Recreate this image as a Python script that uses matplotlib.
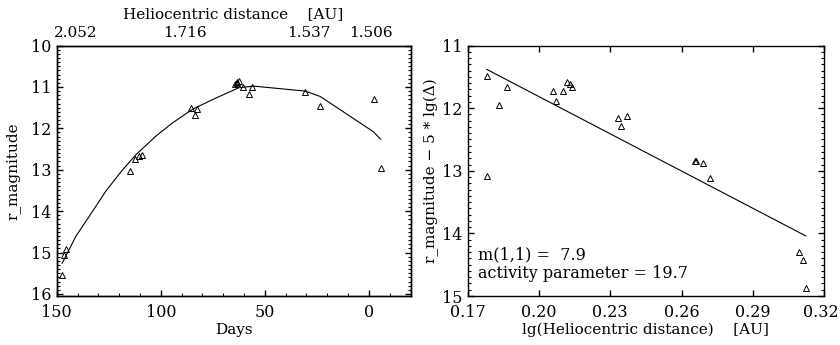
import matplotlib
matplotlib.use("Agg")
import matplotlib.pyplot as plt
from matplotlib.ticker import MultipleLocator
from matplotlib.transforms import ScaledTranslation

# left panel: light curve vs days
days = [147.5, 146.3, 145.3, 114.8, 112.3, 110.4, 109.2, 85.6, 83.6, 82.4,
        64.4, 63.6, 63.2, 62.5, 60.4, 57.4, 56.1, 30.5, 23.4, -2.5, -5.6]
rmag = [15.55, 15.07, 14.91, 13.02, 12.75, 12.66, 12.65, 11.52, 11.67, 11.54,
        10.93, 10.90, 10.87, 10.86, 11.01, 11.17, 11.01, 11.12, 11.47, 11.30, 12.96]
fit_days = [147.4, 140.7, 134.3, 126.3, 118.3, 112.0, 102.4, 94.4, 84.8, 75.3,
            62.5, 55.4, 30.6, 23.4, -2.1, -5.6]
fit_rmag = [15.26, 14.60, 14.12, 13.51, 13.00, 12.64, 12.19, 11.87, 11.54, 11.31,
            11.02, 10.98, 11.10, 11.23, 12.08, 12.26]
top_days = [140.7, 88.3, 29.0, -1.0]
top_labels = ["2.052", "1.716", "1.537", "1.506"]

# right panel: reduced magnitude vs lg(r)
lgr = [0.1780, 0.1783, 0.1831, 0.1867, 0.2061, 0.2073, 0.2101, 0.2119, 0.2130, 0.2139,
       0.2334, 0.2347, 0.2371, 0.2655, 0.2663, 0.2691, 0.2719, 0.3095, 0.3110, 0.3123]
redmag = [11.48, 13.08, 11.95, 11.67, 11.73, 11.89, 11.73, 11.58, 11.62, 11.66,
          12.16, 12.29, 12.12, 12.85, 12.85, 12.88, 13.12, 14.30, 14.42, 14.88]
fit_lgr = [0.1780, 0.3123]
fit_redmag = [11.38, 14.04]
m11 = 7.9
activity = 19.7

plt.rcParams['font.family'] = 'DejaVu Serif'
plt.rcParams['axes.linewidth'] = 1.0

fig = plt.figure(figsize=(8.4, 3.45), dpi=100)
ax1 = fig.add_axes([0.0675, 0.142, 0.4212, 0.726])
ax2 = fig.add_axes([0.5568, 0.142, 0.4242, 0.726])

mk = dict(marker='^', ms=5, mfc='none', mec='black', mew=0.7, ls='none')

def style(ax):
    ax.tick_params(which='both', direction='in', top=True, right=True,
                   labelsize=11.5, colors='black')
    ax.tick_params(which='major', length=4, width=1)
    ax.tick_params(which='minor', length=2.2, width=0.8)
    ax.tick_params(axis='x', pad=6)
    ax.tick_params(axis='y', pad=4)

ax1.plot(fit_days, fit_rmag, color='black', lw=0.8)
ax1.plot(days, rmag, **mk)
ax1.set_xlim(150, -20)
ax1.set_ylim(16.05, 10)
ax1.xaxis.set_major_locator(MultipleLocator(50))
ax1.xaxis.set_minor_locator(MultipleLocator(10))
ax1.yaxis.set_major_locator(MultipleLocator(1))
ax1.yaxis.set_minor_locator(MultipleLocator(0.1))
style(ax1)
ax1.set_xlabel("Days", fontsize=11, labelpad=1)
ax1.set_ylabel("r_magnitude", fontsize=11, labelpad=7)

top = ax1.twiny()
top.set_xlim(ax1.get_xlim())
top.set_xticks(top_days, top_labels)
top.tick_params(length=0, labelsize=11, pad=4)
top.set_xlabel("Heliocentric distance    [AU]", fontsize=11, labelpad=6)

ax2.plot(fit_lgr, fit_redmag, color='black', lw=0.8)
ax2.plot(lgr, redmag, **mk)
ax2.set_xlim(0.17, 0.32)
ax2.set_ylim(15, 11)
ax2.set_xticks([0.17, 0.20, 0.23, 0.26, 0.29, 0.32])
ax2.yaxis.set_major_locator(MultipleLocator(1))
ax2.yaxis.set_minor_locator(MultipleLocator(0.1))
style(ax2)
# nudge the last tick label so it stays inside the canvas
last = ax2.get_xticklabels()[-1]
last.set_transform(last.get_transform() + ScaledTranslation(-3 / 100, 0, fig.dpi_scale_trans))
ax2.set_xlabel("lg(Heliocentric distance)    [AU]", fontsize=11, labelpad=1)
ax2.set_ylabel("r_magnitude − 5 * lg(Δ)", fontsize=11, labelpad=2)
ax2.text(0.03, 0.164, "m(1,1) =  %.1f" % m11, transform=ax2.transAxes,
         fontsize=11.5, va='center')
ax2.text(0.03, 0.088, "activity parameter = %.1f" % activity, transform=ax2.transAxes,
         fontsize=11.5, va='center')

fig.savefig("out.png", dpi=100)
